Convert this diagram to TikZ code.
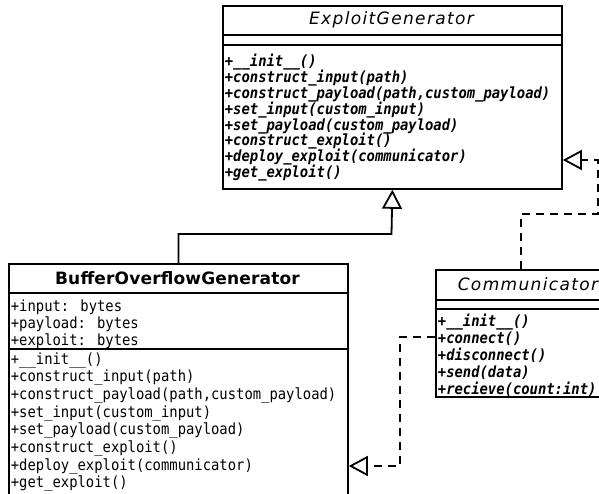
\documentclass[tikz,border=0pt]{standalone}
\usepackage{fontspec}
\usetikzlibrary{arrows.meta}
\newfontfamily\monof{DejaVu Sans Mono}[FakeStretch=0.9]
\newfontfamily\titlef{DejaVu Sans}[LetterSpace=8]
\newfontfamily\titlebf{DejaVu Sans}[LetterSpace=1]
\begin{document}
\begin{tikzpicture}[x=1pt,y=-1pt,line width=1.8pt,
  classbox/.style={draw,rectangle,inner sep=0pt,anchor=north west},
  mtext/.style={anchor=base west,inner sep=0pt,font=\monof\fontsize{15.4}{16}\selectfont},
  mitext/.style={anchor=base west,inner sep=0pt,font=\monof\bfseries\itshape\fontsize{15.4}{16}\selectfont},
  ititle/.style={inner sep=0pt,font=\titlef\itshape\fontsize{17}{19}\selectfont},
  btitle/.style={inner sep=0pt,font=\titlebf\bfseries\fontsize{17}{19}\selectfont},
  realize/.style={dash pattern=on 8pt off 6pt,-{Triangle[open,length=19pt,width=20pt]}},
  inherit/.style={-{Triangle[open,length=19pt,width=20pt]}}]
\useasboundingbox (0,0) rectangle (599,494);
\clip (0,0) rectangle (599,494);
% ExploitGenerator
\node[classbox,minimum width=339pt,minimum height=183pt] (eg) at (222,5) {};
\draw ([yshift=-30pt]eg.north west) -- ([yshift=-30pt]eg.north east);
\draw ([yshift=-40pt]eg.north west) -- ([yshift=-40pt]eg.north east);
\node[ititle] (egt) at (391.5,20) {ExploitGenerator};
\foreach \t [count=\i from 0] in {{+\_\_init\_\_()},{+construct\_input(path)},{+construct\_payload(path,custom\_payload)},{+set\_input(custom\_input)},{+set\_payload(custom\_payload)},{+construct\_exploit()},{+deploy\_exploit(communicator)},{+get\_exploit()}}
  \node[mitext] (egm\i) at (224,{67+15.8*\i}) {\t};
% BufferOverflowGenerator
\node[classbox,minimum width=339pt,minimum height=240pt] (bog) at (8,263) {};
\draw ([yshift=-30pt]bog.north west) -- ([yshift=-30pt]bog.north east);
\draw ([yshift=-86pt]bog.north west) -- ([yshift=-86pt]bog.north east);
\node[btitle] (bogt) at (177.5,278) {BufferOverflowGenerator};
\foreach \t [count=\i from 0] in {{+input: bytes},{+payload: bytes},{+exploit: bytes}}
  \node[mtext] (boga\i) at (10,{311+17*\i}) {\t};
\foreach \t [count=\i from 0] in {{+\_\_init\_\_()},{+construct\_input(path)},{+construct\_payload(path,custom\_payload)},{+set\_input(custom\_input)},{+set\_payload(custom\_payload)},{+construct\_exploit()},{+deploy\_exploit(communicator)},{+get\_exploit()}}
  \node[mtext] (bogm\i) at (10,{364+17.7*\i}) {\t};
% Communicator
\node[classbox,minimum width=186pt,minimum height=127pt] (cm) at (435,269) {};
\draw ([yshift=-31pt]cm.north west) -- ([yshift=-31pt]cm.north east);
\draw ([yshift=-40pt]cm.north west) -- ([yshift=-40pt]cm.north east);
\node[ititle] (cmt) at (528,284.5) {Communicator};
\foreach \t [count=\i from 0] in {{+\_\_init\_\_()},{+connect()},{+disconnect()},{+send(data)},{+recieve(count:int)}}
  \node[mitext] (cmm\i) at (437,{326+17*\i}) {\t};
% connectors
\coordinate (j1) at (391.5,234);
\draw[inherit] (bog.north) |- (j1) -- (eg.south);
\coordinate (c1) at (521,214);
\coordinate (c2) at (598,214);
\coordinate (c3) at (598,160);
\draw[realize] (c1 |- cm.north) -- (c1) -- (c2) -- (c3) -- (eg.east |- c3);
\coordinate (d1) at (400,337);
\coordinate (d2) at (400,466);
\draw[realize] (cm.west |- d1) -- (d1) -- (d2) -- (bog.east |- d2);
\end{tikzpicture}
\end{document}
